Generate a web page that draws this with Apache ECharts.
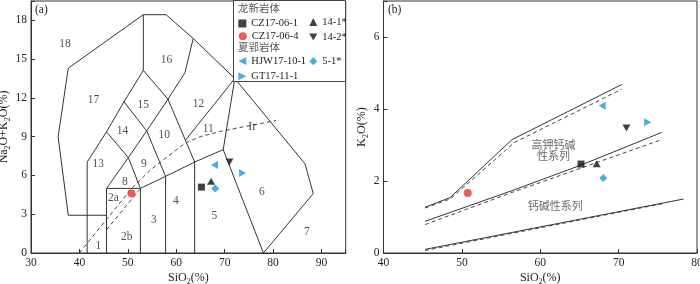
<!DOCTYPE html>
<html><head><meta charset="utf-8">
<script src="https://cdn.jsdelivr.net/npm/echarts@6/dist/echarts.min.js"></script>
<style>html,body{margin:0;padding:0;background:#fff}#c{width:700px;height:284px}</style>
</head><body><div id="c"></div>
<script>
// ---- sample data ----
const samples = ['CZ17-06-1', 'CZ17-06-4', '14-1*', '14-2*', 'HJW17-10-1', '5-1*', 'GT17-11-1'];
const sio2    = [65.2, 50.75, 67.2, 71.0, 67.9, 68.05, 73.7];
const alkali  = [5.1, 4.6, 5.55, 7.05, 6.8, 5.0, 6.2];
const k2o     = [2.47, 1.67, 2.48, 3.47, 4.09, 2.08, 3.63];
const sampleColors = ['#111111', '#e8332c', '#111111', '#111111', '#1a9ad8', '#1a9ad8', '#1a9ad8'];
const sampleSymbols = ['rect', 'circle', 'triangle', 'path://M0,0L10,0L5,9Z', 'path://M10,0L10,10L0,5Z', 'diamond', 'path://M0,0L10,5L0,10Z'];
const sampleSizes = [[7,7], [8,8], [8,7], [8,7], [7,8], [8,8], [7,8]];

// ---- TAS (a) boundary lines ----
const tasOuter   = [[45.6,2.92],[37.7,2.92],[35.6,9.0],[37.7,14.3],[53.2,18.44],[57.9,18.44],[63.5,16.6],[72.1,13.5],[86.6,6.9],[88.3,4.6],[78.0,0]];
const tasStack   = [[41.6,0],[41.6,7.04],[45.6,9.38],[49.2,11.7],[53.2,14.13],[53.2,18.44]];
const tasField15 = [[53.2,14.13],[58.3,11.9],[53.9,9.45],[49.2,11.7]];
const tasField14 = [[45.6,9.38],[50.1,7.38],[53.9,9.45]];
const tasField2  = [[45.6,0],[45.6,5],[52.6,5],[52.6,0]];
const tasField8  = [[45.6,5],[50.1,7.38],[52.6,5]];
const tasBase    = [[52.6,5],[57.8,5.93],[63.8,7.04],[69.7,8.0],[72.1,13.5]];
const tasLine34  = [[57.8,0],[57.8,5.93],[53.9,9.45]];
const tasLine45  = [[63.8,0],[63.8,7.04],[58.3,11.9],[61.8,13.95],[63.5,16.6]];
const tasLine1112 = [[61.9,8.72],[72.1,13.5]];
const tasLine56  = [[69.7,8.0],[78.0,0]];
const irvineLine = [[40.0,0],[45.6,2.6],[50.8,5.0],[54.6,6.4],[58,7.4],[61.8,8.5],[65,9.0],[69,9.4],[73,9.7],[76.5,9.95],[80.6,10.25]];
const gabbroLine = [[45.6,1.8],[52.4,4.9]];
const tasFieldNames = ['1','2a','2b','3','4','5','6','7','8','9','10','11','12','13','14','15','16','17','18'];
const tasFieldX = [43.9,47.0,49.8,55.4,59.9,67.9,77.7,87.0,49.4,53.3,57.5,66.6,64.6,43.9,48.9,53.2,58.0,42.9,37.0];
const tasFieldY = [0.52,4.28,1.24,2.53,4.0,2.84,4.72,1.62,5.49,6.91,9.1,9.62,11.5,6.91,9.44,11.42,14.96,11.86,16.2];

// ---- K2O-SiO2 (b) boundary lines ----
const hkSolid  = [[45.3,1.27],[48.5,1.54],[56.4,3.15],[70.4,4.68]];
const hkDashed = [[45.3,1.25],[48.5,1.5],[56.7,3.07],[70.4,4.55]];
const caSolid  = [[45.3,0.88],[56.5,1.74],[65.3,2.45],[75.5,3.35]];
const caDashed = [[45.3,0.79],[56.5,1.69],[75.5,3.15]];
const thSolid  = [[45.3,0.1],[78.3,1.5]];
const thDashed = [[45.3,0.07],[75.6,1.37]];
const seriesLabels = ['高钾钙碱\n性系列', '钙碱性系列'];
const seriesLabelX = [61.7, 61.9];
const seriesLabelY = [2.82, 1.28];

// ---- ticks ----
const tasXTicks = [30,40,50,60,70,80,90];
const tasYTicks = [0,3,6,9,12,15,18];
const kXTicks = [40,50,60,70,80];
const kYTicks = [0,2,4,6];

const SERIF = '"Liberation Serif","Times New Roman",serif';
const CJK = '"Liberation Serif","Noto Sans CJK SC",serif';
const LINEC = '#333';

const chart = echarts.init(document.getElementById('c'), null, {renderer: 'canvas'});

function lineSeries(data, xi, dashed) {
  return {
    type: 'line', xAxisIndex: xi, yAxisIndex: xi, data: data,
    showSymbol: false, symbol: 'none', silent: true, animation: false,
    lineStyle: {color: LINEC, width: dashed ? 0.9 : 1, type: dashed ? [4, 3] : 'solid'},
    z: 2
  };
}
function labelSeries(names, xs, ys, xi, style) {
  return {
    type: 'scatter', xAxisIndex: xi, yAxisIndex: xi, silent: true, animation: false,
    symbolSize: 1, itemStyle: {color: 'rgba(0,0,0,0)'},
    label: Object.assign({show: true, position: 'inside', formatter: p => p.name}, style),
    data: names.map((n, i) => ({name: n, value: [xs[i], ys[i]]})),
    z: 3
  };
}

const series = [];
[tasOuter, tasStack, tasField15, tasField14, tasField2, tasField8, tasBase, tasLine34, tasLine45, tasLine1112, tasLine56]
  .forEach(d => series.push(lineSeries(d, 0, false)));
[irvineLine, gabbroLine].forEach(d => series.push(lineSeries(d, 0, true)));
[hkSolid, caSolid, thSolid].forEach(d => series.push(lineSeries(d, 1, false)));
[hkDashed, caDashed, thDashed].forEach(d => series.push(lineSeries(d, 1, true)));
series.push(labelSeries(tasFieldNames, tasFieldX, tasFieldY, 0, {fontFamily: SERIF, fontSize: 11.5, color: '#222'}));
series.push(labelSeries(['Ir'], [75.7], [9.78], 0, {fontFamily: SERIF, fontSize: 12, color: '#222'}));
series.push(labelSeries(seriesLabels, seriesLabelX, seriesLabelY, 1, {fontFamily: CJK, fontSize: 11, lineHeight: 11, color: '#444'}));

samples.forEach((s, i) => {
  const common = {
    type: 'scatter', name: s, symbol: sampleSymbols[i], symbolSize: sampleSizes[i],
    itemStyle: {color: sampleColors[i]}, animation: false, z: 5
  };
  series.push(Object.assign({}, common, {xAxisIndex: 0, yAxisIndex: 0, data: [[sio2[i], alkali[i]]]}));
  series.push(Object.assign({}, common, {xAxisIndex: 1, yAxisIndex: 1, data: [[sio2[i], k2o[i]]]}));
});

const legendPos = [[238.3,18],[238.8,30.8],[309.3,16.5],[309.3,31.5],[238.3,55.5],[309.3,55.8],[238.3,70.8]];
const legends = samples.map((s, i) => ({
  data: [s], left: legendPos[i][0], top: legendPos[i][1], padding: 0,
  itemWidth: 8, itemHeight: 8, selectedMode: false, z: 6,
  textStyle: {fontFamily: SERIF, fontSize: 10.5, color: '#222'}
}));

const axisCommon = {
  axisLine: {show: true, lineStyle: {color: LINEC, width: 1}},
  axisTick: {show: true, inside: true, length: 4, lineStyle: {color: LINEC}},
  splitLine: {show: false},
  axisLabel: {fontFamily: SERIF, fontSize: 11.5, color: '#222', margin: 4},
  nameLocation: 'middle',
  nameTextStyle: {fontFamily: SERIF, fontSize: 12, color: '#222', lineHeight: 16,
    rich: {s: {fontFamily: SERIF, fontSize: 8, lineHeight: 9, verticalAlign: 'bottom', color: '#222'}}}
};
function mk(extra, ticks) {
  const o = JSON.parse(JSON.stringify(axisCommon));
  o.axisLabel.formatter = v => (ticks.indexOf(v) >= 0 ? String(v) : '');
  return Object.assign(o, extra);
}

const option = {
  backgroundColor: '#fff',
  animation: false,
  grid: [
    {left: 31, top: 1, width: 314.7, height: 252, show: true, borderColor: LINEC, borderWidth: 1, containLabel: false, outerBoundsMode: 'none'},
    {left: 383.5, top: 1, width: 313.5, height: 252, show: true, borderColor: LINEC, borderWidth: 1, containLabel: false, outerBoundsMode: 'none'}
  ],
  xAxis: [
    mk({type: 'value', gridIndex: 0, min: 30, max: 95, interval: 10, name: 'SiO{s|2}(%)', nameGap: 17, nameMoveOverlap: false}, tasXTicks),
    mk({type: 'value', gridIndex: 1, min: 40, max: 80, interval: 10, name: 'SiO{s|2}(%)', nameGap: 17, nameMoveOverlap: false}, kXTicks)
  ],
  yAxis: [
    mk({type: 'value', gridIndex: 0, min: 0, max: 19.5, interval: 3, name: 'Na{s|2}O+K{s|2}O(%)', nameGap: 17, nameRotate: 90}, tasYTicks),
    mk({type: 'value', gridIndex: 1, min: 0, max: 7, interval: 2, name: 'K{s|2}O(%)', nameGap: 14, nameRotate: 90}, kYTicks)
  ],
  legend: legends,
  graphic: [
    {type: 'rect', shape: {x: 233.5, y: 0.5, width: 112, height: 81}, style: {fill: '#fff', stroke: '#444', lineWidth: 1}, z: 3},
    {type: 'text', left: 238, top: 4, style: {text: '龙新岩体', font: '10.5px ' + CJK, fill: '#555'}, z: 7},
    {type: 'text', left: 238, top: 43, style: {text: '夏郢岩体', font: '10.5px ' + CJK, fill: '#555'}, z: 7},
    {type: 'text', left: 35, top: 4, style: {text: '(a)', font: '11.5px ' + SERIF, fill: '#222'}, z: 7},
    {type: 'text', left: 388, top: 4, style: {text: '(b)', font: '11.5px ' + SERIF, fill: '#222'}, z: 7}
  ],
  series: series
};
chart.setOption(option);
</script></body></html>
